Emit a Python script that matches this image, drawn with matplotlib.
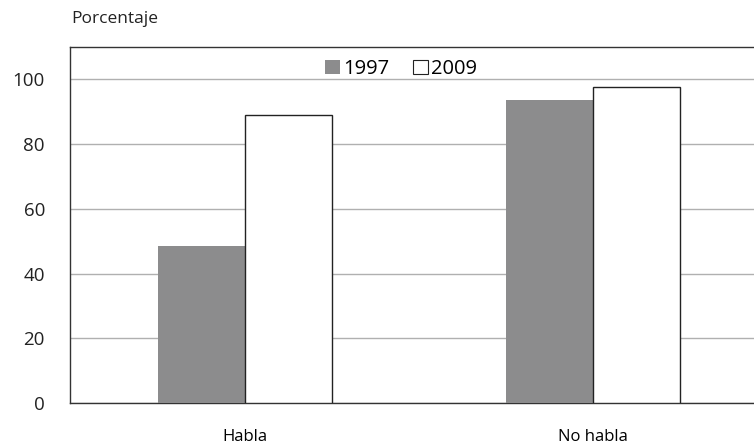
import numpy as np
import matplotlib.pyplot as plt
from matplotlib.patches import Patch

plt.rcParams['font.family'] = ['Open Sans', 'DejaVu Sans']

categories = ['Habla', 'No habla']
years = ['1997', '2009']
vals_1997 = [48.6, 93.5]
vals_2009 = [88.9, 97.8]

fig = plt.figure(figsize=(7.54, 4.44), dpi=100)
ax = fig.add_axes([0.0928, 0.0923, 0.9072, 0.8018])

x = np.arange(len(categories))
w = 0.25
ax.bar(x - w / 2, vals_1997, w, color='#8c8c8d', edgecolor='none', zorder=3)
ax.bar(x + w / 2, vals_2009, w, color='white', edgecolor='#222222', linewidth=1.0, zorder=3)

ax.set_ylim(0, 110)
ax.set_xlim(-0.503, 1.463)
ax.set_yticks([0, 20, 40, 60, 80, 100])
ax.set_xticks(x)
ax.set_xticklabels(categories, fontsize=12)
ax.tick_params(axis='y', length=0, labelsize=13.5, pad=18)
ax.tick_params(axis='x', length=0, pad=19)
for t in ax.get_yticklabels():
    t.set_color('#222222')

ax.grid(axis='y', color='#b0b0b0', linewidth=1.0, zorder=0)
ax.spines['right'].set_visible(False)
for s in ['left', 'bottom', 'top']:
    ax.spines[s].set_color('#333333')
    ax.spines[s].set_linewidth(1.0)

handles = [Patch(facecolor='#8c8c8d', edgecolor='none'),
           Patch(facecolor='white', edgecolor='#222222', linewidth=0.8)]
ax.legend(handles, years, loc='upper center', bbox_to_anchor=(0.484, 1.0), ncol=2,
          frameon=False, fontsize=14.5, handlelength=0.75, handleheight=0.75,
          handletextpad=0.15, columnspacing=1.2, borderaxespad=0.2)

fig.text(0.095, 0.958, 'Porcentaje', fontsize=12.5, va='center', color='#222222')

fig.savefig('out.png', dpi=100)
